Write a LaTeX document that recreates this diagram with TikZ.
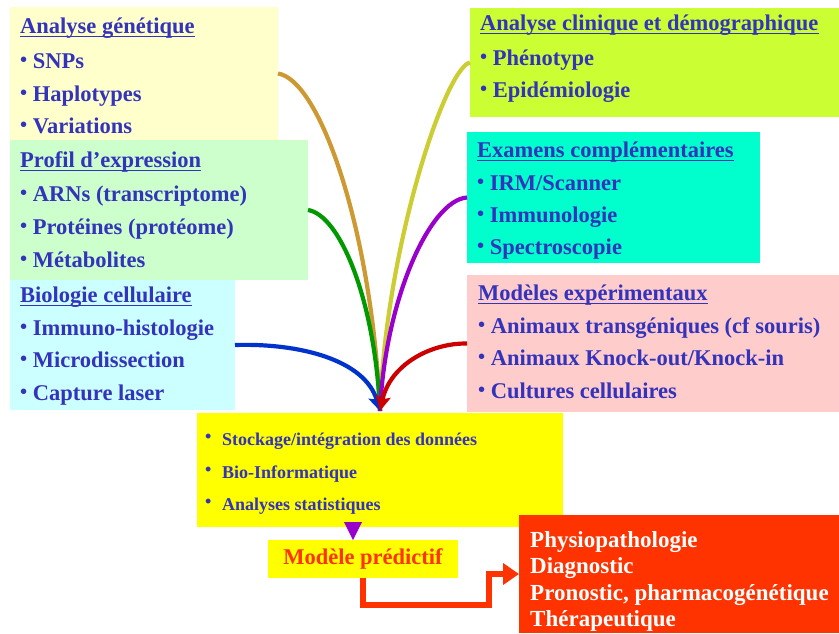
\documentclass[tikz,border=0pt]{standalone}
\usepackage{fontspec}
\usepackage{graphicx}
\setmainfont{Liberation Serif}
\usetikzlibrary{arrows.meta,calc}
\definecolor{txtblue}{HTML}{3333BB}
\definecolor{cA}{HTML}{FFFFCC}
\definecolor{cB}{HTML}{CCFFCC}
\definecolor{cC}{HTML}{CCFFFF}
\definecolor{cD}{HTML}{CCFF33}
\definecolor{cE}{HTML}{00FFCC}
\definecolor{cF}{HTML}{FFCCCC}
\definecolor{cY}{HTML}{FFFF00}
\definecolor{cR}{HTML}{FF3300}
\definecolor{lOrange}{HTML}{CC9933}
\definecolor{lOlive}{HTML}{CCCC33}
\definecolor{lGreen}{HTML}{009900}
\definecolor{lPurple}{HTML}{9900CC}
\definecolor{lBlue}{HTML}{0033CC}
\definecolor{lRed}{HTML}{CC0000}
\newcommand\bul{\raisebox{0.08em}{\scalebox{0.9}{•}}}
\tikzset{
  panel/.style={draw=none, inner sep=0pt, outer sep=0pt, anchor=north west},
  txt/.style={anchor=base west, inner sep=0pt, text=txtblue,
    font=\fontsize{22.5}{27}\selectfont\bfseries},
  smalltxt/.style={anchor=base west, inner sep=0pt, text=txtblue,
    font=\fontsize{18}{22}\selectfont\bfseries},
  whitetxt/.style={anchor=base west, inner sep=0pt, text=white,
    font=\fontsize{23}{27}\selectfont\bfseries},
  curve/.style={line width=4.2pt},
  tip/.style={-{Stealth[length=15pt,width=15pt,inset=3pt]}},
  elbow/.style={draw=cR, line width=6.5pt, -{Triangle[length=16pt,width=21pt]}},
  uline/.style={draw=txtblue, line width=1.4pt},
}
\begin{document}
\begin{tikzpicture}[x=1pt,y=-1pt]
\useasboundingbox (0,0) rectangle (839,633);
\fill[white] (0,0) rectangle (839,633);

% left panels
\node[panel, fill=cA, minimum width=268pt, minimum height=133pt] (b1) at (10,7) {};
\node[panel, fill=cB, minimum width=298pt, minimum height=140pt] (b2) at (10,140) {};
\node[panel, fill=cC, minimum width=225pt, minimum height=130pt] (b3) at (10,280) {};
% right panels
\node[panel, fill=cD, minimum width=369pt, minimum height=109pt] (b4) at (470,8) {};
\node[panel, fill=cE, minimum width=293pt, minimum height=131pt] (b5) at (467,132) {};
\node[panel, fill=cF, minimum width=372pt, minimum height=137pt] (b6) at (467,275) {};
% bottom
\node[panel, fill=cY, minimum width=366pt, minimum height=114pt] (yb) at (197,413) {};
\node[panel, fill=cY, minimum width=190pt, minimum height=38pt] (mod) at (268,540) {};
\node[panel, fill=cR, minimum width=320pt, minimum height=118pt] (rb) at (519,515) {};

% texts panel 1
\node[txt] (t1h) at (20,33) {Analyse génétique};
\node[txt] (t1a) at (20,68) {\bul\ SNPs};
\node[txt] (t1b) at (20,101) {\bul\ Haplotypes};
\node[txt] (t1c) at (20,133) {\bul\ Variations};
% panel 2
\node[txt] (t2h) at (20,167) {Profil d’expression};
\node[txt] (t2a) at (20,201) {\bul\ ARNs (transcriptome)};
\node[txt] (t2b) at (20,234) {\bul\ Protéines (protéome)};
\node[txt] (t2c) at (20,267) {\bul\ Métabolites};
% panel 3
\node[txt] (t3h) at (20,302) {Biologie cellulaire};
\node[txt] (t3a) at (20,335) {\bul\ Immuno-histologie};
\node[txt] (t3b) at (20,367) {\bul\ Microdissection};
\node[txt] (t3c) at (20,400) {\bul\ Capture laser};
% panel 4
\node[txt] (t4h) at (480,30) {Analyse clinique et démographique};
\node[txt] (t4a) at (480,65) {\bul\ Phénotype};
\node[txt] (t4b) at (480,97) {\bul\ Epidémiologie};
% panel 5
\node[txt] (t5h) at (477,157) {Examens complémentaires};
\node[txt] (t5a) at (477,190) {\bul\ IRM/Scanner};
\node[txt] (t5b) at (477,222) {\bul\ Immunologie};
\node[txt] (t5c) at (477,254) {\bul\ Spectroscopie};
% panel 6
\node[txt] (t6h) at (478,300) {Modèles expérimentaux};
\node[txt] (t6a) at (478,333) {\bul\ Animaux transgéniques (cf souris)};
\node[txt] (t6b) at (478,365) {\bul\ Animaux Knock-out/Knock-in};
\node[txt] (t6c) at (478,398) {\bul\ Cultures cellulaires};
% header underlines
\foreach \h in {t1h,t2h,t3h,t4h,t5h,t6h}
  \draw[uline] ([yshift=-3.5pt]\h.base west) -- ([yshift=-3.5pt]\h.base east);
% yellow box
\node[smalltxt] (y1b) at (205,442) {•};
\node[smalltxt] (y1) at (222,445) {Stockage/intégration des données};
\node[smalltxt] (y2b) at (205,475) {•};
\node[smalltxt] (y2) at (222,478) {Bio-Informatique};
\node[smalltxt] (y3b) at (205,507) {•};
\node[smalltxt] (y3) at (222,510) {Analyses statistiques};
% model
\node[inner sep=0pt, text=cR, font=\fontsize{22.5}{27}\selectfont\bfseries] (modt) at (mod.center) {Modèle prédictif};
% red box
\node[whitetxt] (r1) at (530,547) {Physiopathologie};
\node[whitetxt] (r2) at (530,573) {Diagnostic};
\node[whitetxt] (r3) at (530,600) {Pronostic, pharmacogénétique};
\node[whitetxt] (r4) at (530,626) {Thérapeutique};

% purple triangle
\fill[lPurple] (344,522) -- (362,522) -- (353,540) -- cycle;

% elbow arrow
\draw[elbow] (mod.south) -- ++(0,27) -| ($(rb.west)+(-30,0)$) -- (rb.west);

% curves
\coordinate (hub) at (380,411);
\draw[curve, lOrange] (b1.east) .. controls (320,80) and (372,230) .. (hub);
\draw[curve, lOlive] (b4.west) .. controls (445,68) and (385,250) .. (hub);
\draw[curve, lGreen] (b2.east) .. controls (340,215) and (375,300) .. (hub);
\draw[curve, lPurple] (b5.west) .. controls (430,200) and (385,300) .. (hub);
\draw[curve, lBlue, tip] (b3.east) .. controls (300,343) and (365,360) .. (hub);
\draw[curve, lRed, tip] (b6.west) .. controls (430,343) and (390,365) .. (hub);
\end{tikzpicture}
\end{document}
